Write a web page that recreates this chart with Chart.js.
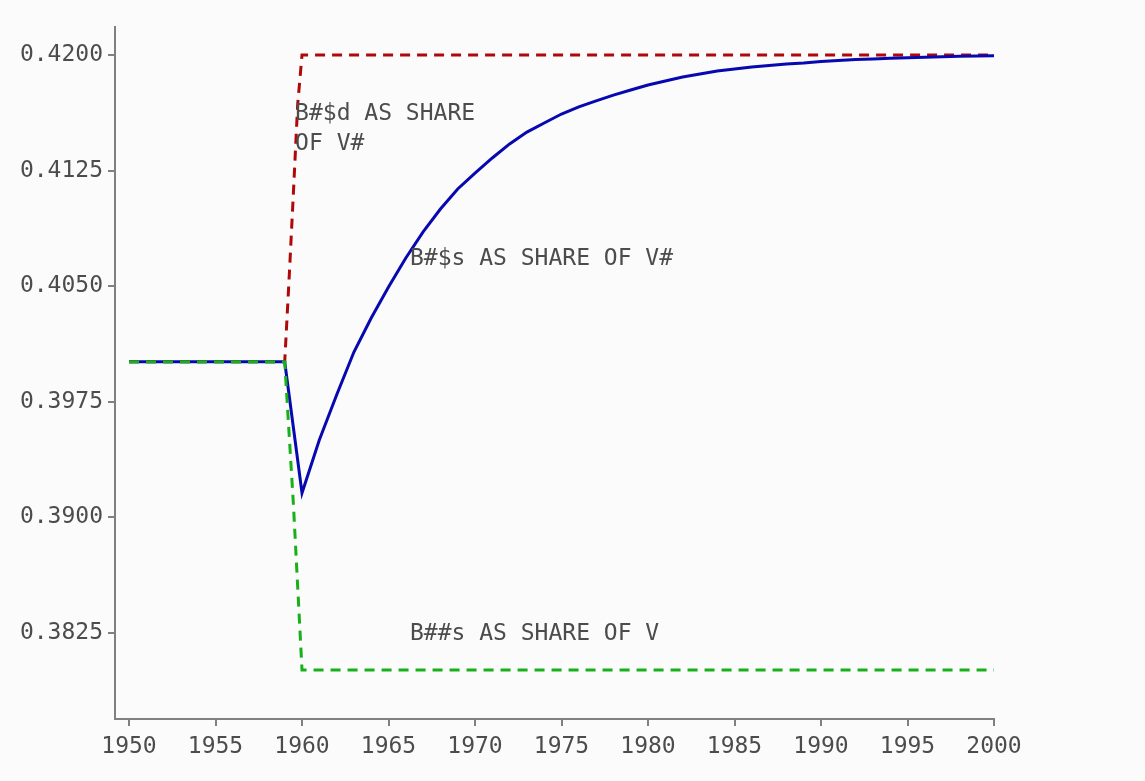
<!DOCTYPE html>
<html>
<head>
<meta charset="utf-8">
<script src="https://cdn.jsdelivr.net/npm/chart.js@4/dist/chart.umd.min.js"></script>
<style>
  html, body { margin: 0; padding: 0; background: #fbfbfb; }
  #wrap { width: 1145px; height: 781px; position: relative; }
</style>
</head>
<body>
<div id="wrap"><canvas id="chart"></canvas></div>
<script>
// values
const blueYears = [1950, 1959, 1960, 1961, 1962, 1963, 1964, 1965, 1966, 1967, 1968, 1969,
  1970, 1971, 1972, 1973, 1974, 1975, 1976, 1977, 1978, 1979, 1980, 1981, 1982, 1983,
  1984, 1985, 1986, 1987, 1988, 1989, 1990, 1991, 1992, 1993, 1994, 1995, 1996, 1997,
  1998, 1999, 2000];
const blueValues = [0.4001, 0.4001, 0.39158, 0.39502, 0.39794, 0.40073, 0.40294, 0.40495,
  0.40683, 0.40852, 0.41001, 0.41131, 0.41234, 0.41332, 0.41423, 0.41500, 0.41559, 0.41617,
  0.41663, 0.41702, 0.41740, 0.41773, 0.41805, 0.41831, 0.41857, 0.41877, 0.41896, 0.41909,
  0.41922, 0.41932, 0.41942, 0.41948, 0.41958, 0.41964, 0.41971, 0.41974, 0.41979, 0.41982,
  0.41986, 0.41988, 0.41992, 0.41994, 0.41995];

const redYears = [1950, 1959, 1959.25, 1959.5, 1959.75, 1960, 2000];
const redValues = [0.4001, 0.4001, 0.4054, 0.4110, 0.4168, 0.4200, 0.4200];

const greenYears = [1950, 1959, 1959.5, 1960, 2000];
const greenValues = [0.4001, 0.4001, 0.3909, 0.3801, 0.3801];

const yTicks = [0.3825, 0.3900, 0.3975, 0.4050, 0.4125, 0.4200];
const xTicks = [1950, 1955, 1960, 1965, 1970, 1975, 1980, 1985, 1990, 1995, 2000];

// text labels placed in data coordinates (left x, baseline y)
const notes = [
  { text: 'B#$d AS SHARE', x: 1959.6, y: 0.41578 },
  { text: 'OF V#', x: 1959.6, y: 0.41384 },
  { text: 'B#$s AS SHARE OF V#', x: 1966.24, y: 0.40637 },
  { text: 'B##s AS SHARE OF V', x: 1966.24, y: 0.38204 }
];

const FONT = "'DejaVu Sans Mono', 'Liberation Mono', monospace";
const TEXT = '#4c4c4c';
const AXIS = '#808080';

function pts(xs, ys) {
  return xs.map((x, i) => ({ x: x, y: ys[i] }));
}

const notesPlugin = {
  id: 'notes',
  afterDatasetsDraw(chart) {
    const ctx = chart.ctx;
    const xs = chart.scales.x, ys = chart.scales.y;
    ctx.save();
    ctx.font = '23px ' + FONT;
    ctx.fillStyle = TEXT;
    ctx.textAlign = 'left';
    ctx.textBaseline = 'alphabetic';
    notes.forEach(n => {
      ctx.fillText(n.text, xs.getPixelForValue(n.x), ys.getPixelForValue(n.y));
    });
    ctx.restore();
  }
};

new Chart(document.getElementById('chart'), {
  type: 'scatter',
  data: {
    datasets: [
      {
        label: 'B##s AS SHARE OF V',
        data: pts(greenYears, greenValues),
        borderColor: '#18b018',
        borderWidth: 3,
        borderDash: [10, 7]
      },
      {
        label: 'B#$s AS SHARE OF V#',
        data: pts(blueYears, blueValues),
        borderColor: '#0808b0',
        borderWidth: 3
      },
      {
        label: 'B#$d AS SHARE OF V#',
        data: pts(redYears, redValues),
        borderColor: '#b00808',
        borderWidth: 3,
        borderDash: [10, 7]
      }
    ]
  },
  options: {
    responsive: true,
    maintainAspectRatio: false,
    animation: false,
    showLine: true,
    elements: { point: { radius: 0 }, line: { tension: 0 } },
    layout: { padding: { top: 27, right: 151, bottom: 0, left: 0 } },
    plugins: { legend: { display: false }, tooltip: { enabled: false } },
    scales: {
      x: {
        type: 'linear',
        min: 1949.19,
        max: 2000,
        afterBuildTicks: s => { s.ticks = xTicks.map(v => ({ value: v })); },
        afterFit: s => { s.height = 62; },
        ticks: {
          color: TEXT,
          font: { family: FONT, size: 23 },
          padding: 7,
          maxRotation: 0,
          autoSkip: false,
          callback: v => String(v)
        },
        grid: { drawOnChartArea: false, drawTicks: true, tickLength: 7, color: AXIS, lineWidth: 2 },
        border: { display: true, color: AXIS, width: 2 }
      },
      y: {
        type: 'linear',
        min: 0.37692,
        max: 0.421817,
        afterBuildTicks: s => { s.ticks = yTicks.map(v => ({ value: v })); },
        afterFit: s => { s.width = 115; },
        ticks: {
          color: TEXT,
          font: { family: FONT, size: 23 },
          padding: 5,
          autoSkip: false,
          callback: v => v.toFixed(4)
        },
        grid: { drawOnChartArea: false, drawTicks: true, tickLength: 7, color: AXIS, lineWidth: 2 },
        border: { display: true, color: AXIS, width: 2 }
      }
    }
  },
  plugins: [notesPlugin]
});
</script>
</body>
</html>
